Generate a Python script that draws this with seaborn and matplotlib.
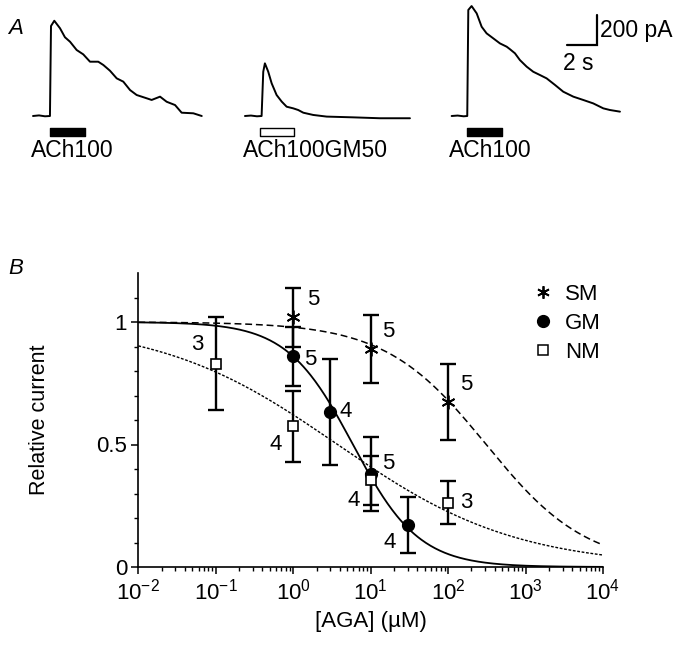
"""Agatoxin inhibition of ACh currents: example traces (A) and dose-response (B)."""

import numpy as np
import pandas as pd
import matplotlib
matplotlib.use("Agg")
import matplotlib.pyplot as plt
import matplotlib.ticker as mticker
from matplotlib.lines import Line2D
import seaborn as sns

# ---- Panel A: current traces (time from trace start in s, current in pA)
trace1_t = [0, 0.4, 0.8, 1.13, 1.2, 1.42, 1.8, 2.13, 2.47, 2.91, 3.35, 3.8, 4.35, 4.69,
            5.13, 5.58, 6.02, 6.47, 6.91, 7.58, 7.91, 8.47, 8.91, 9.47, 9.91, 10.69, 11.25]
trace1_i = [0, 4, -2, 0, 600, 635, 585, 525, 495, 440, 411, 362, 362, 340,
            302, 251, 229, 173, 140, 118, 107, 129, 95, 73, 22, 18, 0]

trace2_t = [0, 0.4, 0.8, 1.11, 1.22, 1.33, 1.55, 1.78, 2.11, 2.45, 2.78, 3.22, 3.55, 3.89,
            4.55, 5.45, 7.22, 9.0, 11.0]
trace2_i = [0, 3, -2, 0, 295, 351, 296, 218, 140, 96, 62, 51, 40, 22,
            7, -4, -9, -15, -15]

trace3_t = [0, 0.4, 0.8, 1.04, 1.11, 1.33, 1.67, 2.0, 2.33, 2.77, 3.22, 3.67, 3.89, 4.22,
            4.55, 5.0, 5.44, 5.89, 6.33, 6.89, 7.44, 8.11, 8.77, 9.44, 10.11, 10.55, 11.22]
trace3_i = [0, 3, -2, 0, 707, 733, 684, 595, 551, 518, 484, 462, 445, 418,
            373, 329, 295, 273, 251, 207, 162, 129, 107, 84, 51, 40, 29]

trace_labels = ["ACh100", "ACh100GM50", "ACh100"]
bar_start = [1.13, 1.0, 1.04]      # application onset (s)
bar_duration = [2.33, 2.27, 2.29]  # application length (s)
bar_filled = [True, False, True]

# ---- Panel B: dose-response data
sm_conc = [1, 10, 100]
sm_rel = [1.02, 0.89, 0.675]
sm_err = [0.12, 0.14, 0.155]
sm_n = [5, 5, 5]

gm_conc = [1, 3, 10, 30]
gm_rel = [0.86, 0.633, 0.38, 0.172]
gm_err = [0.12, 0.215, 0.15, 0.113]
gm_n = [5, 4, 5, 4]

nm_conc = [0.1, 1, 10, 100]
nm_rel = [0.83, 0.575, 0.355, 0.262]
nm_err = [0.19, 0.145, 0.10, 0.087]
nm_n = [3, 4, 4, 3]

# Hill fits: IC50 (uM), slope
sm_fit = (310.0, 0.666)
gm_fit = (5.9, 1.02)
nm_fit = (3.73, 0.376)


def hill(conc, ic50, slope):
    return 1.0 / (1.0 + (conc / ic50) ** slope)


sns.set_theme(style="ticks")
plt.rcParams["font.family"] = ["Liberation Sans", "DejaVu Sans"]
plt.rcParams["mathtext.fontset"] = "custom"
plt.rcParams["mathtext.rm"] = "Liberation Sans"
plt.rcParams["text.color"] = "black"
plt.rcParams["axes.labelcolor"] = "black"
plt.rcParams["xtick.color"] = "black"
plt.rcParams["ytick.color"] = "black"

W, H = 687, 647
fig = plt.figure(figsize=(W / 100, H / 100), dpi=100)
FS = 16

# ---------------- Panel A ----------------
axA = fig.add_axes([0, 1 - 170 / H, 1, 170 / H])
px_per_s, pa_per_px = 15.0, 6.667
axA.set_xlim(-33 / px_per_s, (W - 33) / px_per_s)
axA.set_ylim(-(170 - 116) * pa_per_px, 116 * pa_per_px)
axA.axis("off")

offsets = [0, 14.13, 27.91]
traces = [(trace1_t, trace1_i), (trace2_t, trace2_i), (trace3_t, trace3_i)]
for (t, i), off, lab, b0, bd, filled in zip(traces, offsets, trace_labels,
                                            bar_start, bar_duration, bar_filled):
    df = pd.DataFrame({"t": np.array(t) + off, "i": i})
    sns.lineplot(data=df, x="t", y="i", sort=False, color="black", lw=1.4,
                 estimator=None, ax=axA)
    axA.broken_barh([(b0 + off, bd)], (-133, 53), facecolors="black" if filled else "white",
                    edgecolors="black", linewidth=1.0)
    axA.text(off - 0.15, -227, lab, fontsize=16.5, ha="left", va="center")

# scale bar: 2 s x 200 pA
sb_x, sb_y = 37.58, 473
axA.plot([sb_x - 2, sb_x, sb_x], [sb_y, sb_y, sb_y + 200], color="black", lw=1.6,
         solid_joinstyle="miter")
axA.text(sb_x + 0.25, sb_y + 100, "200 pA", fontsize=16.5, ha="left", va="center")
axA.text(sb_x - 1.2, sb_y - 120, "2 s", fontsize=16.5, ha="center", va="center")

fig.text(8 / W, 1 - 28 / H, "A", fontsize=FS, style="italic", ha="left", va="center")
fig.text(8 / W, 1 - 268 / H, "B", fontsize=FS, style="italic", ha="left", va="center")

# ---------------- Panel B ----------------
x0, x1, y0, y1 = 138.3, 603.0, 567.0, 273.0
axB = fig.add_axes([x0 / W, 1 - y0 / H, (x1 - x0) / W, (y0 - y1) / H])

grid = np.logspace(-2, 4, 400)
for fit, ls, lw in [(gm_fit, "-", 1.3), (sm_fit, (0, (4.5, 2.5)), 1.1),
                    (nm_fit, (0, (2, 1.2)), 1.0)]:
    cdf = pd.DataFrame({"conc": grid, "rel": hill(grid, *fit)})
    sns.lineplot(data=cdf, x="conc", y="rel", color="black", lw=lw, linestyle=ls,
                 estimator=None, ax=axB)

for conc, rel, err in [(sm_conc, sm_rel, sm_err), (gm_conc, gm_rel, gm_err),
                       (nm_conc, nm_rel, nm_err)]:
    axB.errorbar(conc, rel, yerr=err, fmt="none", ecolor="black", elinewidth=1.7,
                 capsize=6, capthick=1.7, zorder=3)

axB.plot(sm_conc, sm_rel, ls="none", marker=(6, 2, 0), ms=10, mec="black", mew=1.3, zorder=4)
axB.plot(gm_conc, gm_rel, ls="none", marker="o", ms=8.5, mfc="black", mec="black", zorder=4)
axB.plot(nm_conc, nm_rel, ls="none", marker="s", ms=7.5, mfc="white", mec="black",
         mew=1.2, zorder=4)

# n annotations (offsets in pixels)
label_offsets = {
    "sm": [(20, 18), (18, 17), (18, 17)],
    "gm": [(17, -3), (16, 0), (18, 10), (-18, -18)],
    "nm": [(-18, 19), (-18, -18), (-17, -20), (18, 0)],
}
for key, conc, rel, ns in [("sm", sm_conc, sm_rel, sm_n), ("gm", gm_conc, gm_rel, gm_n),
                           ("nm", nm_conc, nm_rel, nm_n)]:
    for c, r, n, off in zip(conc, rel, ns, label_offsets[key]):
        axB.annotate(str(n), (c, r), xytext=off, textcoords="offset pixels",
                     fontsize=FS, ha="center", va="center", zorder=5)

axB.set_xscale("log")
axB.set_xlim(1e-2, 1e4)
axB.set_ylim(0, 1.2)
axB.xaxis.set_major_locator(mticker.LogLocator(base=10, numticks=10))
axB.xaxis.set_minor_locator(mticker.LogLocator(base=10, subs=np.arange(2, 10), numticks=100))
axB.xaxis.set_major_formatter(mticker.FuncFormatter(
    lambda v, _: rf"$\mathregular{{10^{{{int(round(np.log10(v)))}}}}}$"))
axB.xaxis.set_minor_formatter(mticker.NullFormatter())
axB.yaxis.set_major_locator(mticker.FixedLocator([0, 0.5, 1]))
axB.yaxis.set_minor_locator(mticker.FixedLocator(np.arange(0, 1.15, 0.1)))
axB.yaxis.set_major_formatter(mticker.FuncFormatter(lambda v, _: f"{v:g}"))
axB.tick_params(which="major", direction="out", length=5, width=1.1, labelsize=FS, pad=3)
axB.tick_params(axis="x", which="major", pad=3.5)
axB.tick_params(which="minor", direction="out", length=3, width=1.0)
sns.despine(ax=axB)
for sp in ("left", "bottom"):
    axB.spines[sp].set_linewidth(1.2)
    axB.spines[sp].set_color("black")

axB.set_xlabel("[AGA] (\u00b5M)", fontsize=FS)
axB.set_ylabel("Relative current", fontsize=15.5)
axB.xaxis.set_label_coords(0.5, -0.15)
axB.yaxis.set_label_coords(-0.19, 0.5)

handles = [
    Line2D([], [], ls="none", marker=(6, 2, 0), ms=9, mec="black", mew=1.3),
    Line2D([], [], ls="none", marker="o", ms=8.5, mfc="black", mec="black"),
    Line2D([], [], ls="none", marker="s", ms=6.5, mfc="white", mec="black", mew=1.1),
]
axB.legend(handles, ["SM", "GM", "NM"], loc="upper left",
           bbox_to_anchor=(534 / W, 1 - 284 / H), bbox_transform=fig.transFigure,
           frameon=False, fontsize=FS, handlelength=0.8, handletextpad=0.6,
           labelspacing=0.35, borderpad=0, borderaxespad=0)

fig.savefig("out.png", dpi=100)
